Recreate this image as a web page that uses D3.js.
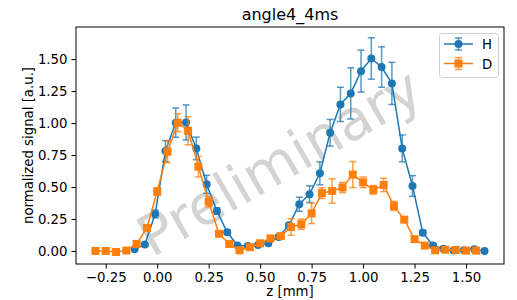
<!DOCTYPE html>
<html>
<head>
<meta charset="utf-8">
<script src="https://cdn.jsdelivr.net/npm/d3@7"></script>
<style>
  body { margin: 0; background: #fff; }
  text { font-family: "DejaVu Sans", sans-serif; }
</style>
</head>
<body>
<div id="chart"></div>
<script>
const zH = [-0.11, -0.06, -0.01, 0.04, 0.09, 0.14, 0.19, 0.24, 0.29, 0.34, 0.39, 0.44, 0.49, 0.54, 0.59, 0.64, 0.69, 0.74,
  0.79, 0.84, 0.89, 0.94, 0.99, 1.04, 1.09, 1.14, 1.19, 1.24, 1.29, 1.34, 1.39, 1.44, 1.49, 1.54, 1.59]
const valH = [0.013, 0.05, 0.289, 0.781, 1.003, 1.005, 0.802, 0.521, 0.3125, 0.146, 0.042, 0.039, 0.046, 0.06, 0.11, 0.2, 0.365, 0.444,
  0.607, 0.924, 1.146, 1.232, 1.406, 1.505, 1.438, 1.31, 0.802, 0.508, 0.143, 0.042, 0.018, 0.003, 0.005, 0.013, 0.0]
const errH = [0.008, 0.01, 0.03, 0.082, 0.114, 0.137, 0.088, 0.07, 0.025, 0.015, 0.01, 0.01, 0.01, 0.01, 0.015, 0.02, 0.055, 0.065,
  0.09, 0.104, 0.134, 0.2, 0.164, 0.162, 0.158, 0.165, 0.105, 0.081, 0.02, 0.01, 0.008, 0.006, 0.006, 0.006, 0.005]

const zD = [-0.30, -0.25, -0.20, -0.15, -0.10, -0.05, 0.00, 0.05, 0.10, 0.15, 0.20, 0.25, 0.30, 0.35, 0.40, 0.45, 0.50, 0.55, 0.60,
  0.65, 0.70, 0.75, 0.80, 0.85, 0.90, 0.95, 1.00, 1.05, 1.10, 1.15, 1.20, 1.25, 1.30, 1.35, 1.40, 1.45, 1.50, 1.55]
const valD = [0.0, 0.0, -0.008, 0.003, 0.055, 0.18, 0.465, 0.776, 1.003, 0.94, 0.659, 0.385, 0.134, 0.055, 0.005, 0.029, 0.06, 0.098, 0.116,
  0.187, 0.209, 0.294, 0.452, 0.469, 0.496, 0.597, 0.536, 0.478, 0.516, 0.352, 0.245, 0.092, 0.042, 0.005, 0.01, 0.008, 0.003, 0.003]
const errD = [0.008, 0.008, 0.01, 0.008, 0.015, 0.02, 0.03, 0.085, 0.07, 0.11, 0.08, 0.04, 0.02, 0.01, 0.01, 0.01, 0.01, 0.012, 0.015,
  0.064, 0.04, 0.08, 0.042, 0.095, 0.04, 0.102, 0.042, 0.034, 0.052, 0.035, 0.02, 0.015, 0.01, 0.008, 0.008, 0.008, 0.006, 0.006]

const xTicks = [-0.25, 0.00, 0.25, 0.50, 0.75, 1.00, 1.25, 1.50]
const yTicks = [0.00, 0.25, 0.50, 0.75, 1.00, 1.25, 1.50]

const series = [
  {name: "H", z: zH, val: valH, err: errH, color: "#1f77b4", marker: "circle"},
  {name: "D", z: zD, val: valD, err: errD, color: "#ff7f0e", marker: "square"}
]

const width = 517, height = 300
const m = {left: 76, right: 504, top: 27, bottom: 264}

const x = d3.scaleLinear().domain([-0.3945, 1.6845]).range([m.left, m.right])
const y = d3.scaleLinear().domain([-0.102, 1.751]).range([m.bottom, m.top])

const svg = d3.select("#chart").append("svg")
    .attr("width", width)
    .attr("height", height)
    .style("display", "block")

svg.append("rect").attr("width", width).attr("height", height).attr("fill", "#fff")

// watermark
svg.append("text")
    .attr("transform", "translate(152,258) rotate(-30)")
    .attr("font-size", 56)
    .attr("fill", "#808080")
    .attr("fill-opacity", 0.35)
    .text("Preliminary")

const fmt = d => d3.format(".2f")(d).replace("-", "\u2212")

svg.append("g")
    .attr("transform", `translate(0,${m.bottom})`)
    .call(d3.axisBottom(x).tickValues(xTicks).tickFormat(fmt).tickSizeOuter(0).tickSize(4.5).tickPadding(4))
    .call(g => g.select(".domain").remove())
    .call(g => g.selectAll("text").attr("font-size", 13.3).attr("fill", "#000").style("font-family", "DejaVu Sans"))

svg.append("g")
    .attr("transform", `translate(${m.left},0)`)
    .call(d3.axisLeft(y).tickValues(yTicks).tickFormat(fmt).tickSizeOuter(0).tickSize(4.5).tickPadding(4))
    .call(g => g.select(".domain").remove())
    .call(g => g.selectAll("text").attr("font-size", 13.3).attr("fill", "#000").style("font-family", "DejaVu Sans"))

const plot = svg.append("g")

series.forEach(s => {
  const pts = s.z.map((z, i) => ({z: z, v: s.val[i], e: s.err[i]}))
  const g = plot.append("g")

  const bars = g.append("g")
      .attr("stroke", s.color)
      .attr("stroke-opacity", 0.75)
      .attr("stroke-width", 1.5)
  bars.selectAll("line.bar").data(pts).join("line").attr("class", "bar")
      .attr("x1", d => x(d.z)).attr("x2", d => x(d.z))
      .attr("y1", d => y(d.v - d.e)).attr("y2", d => y(d.v + d.e))
  bars.selectAll("line.capt").data(pts).join("line").attr("class", "capt")
      .attr("x1", d => x(d.z) - 3.5).attr("x2", d => x(d.z) + 3.5)
      .attr("y1", d => y(d.v + d.e)).attr("y2", d => y(d.v + d.e))
  bars.selectAll("line.capb").data(pts).join("line").attr("class", "capb")
      .attr("x1", d => x(d.z) - 3.5).attr("x2", d => x(d.z) + 3.5)
      .attr("y1", d => y(d.v - d.e)).attr("y2", d => y(d.v - d.e))

  g.append("path")
      .datum(pts)
      .attr("fill", "none")
      .attr("stroke", s.color)
      .attr("stroke-width", 1.5)
      .attr("d", d3.line().x(d => x(d.z)).y(d => y(d.v)))

  if (s.marker === "circle") {
    g.selectAll("circle").data(pts).join("circle")
        .attr("cx", d => x(d.z)).attr("cy", d => y(d.v)).attr("r", 4)
        .attr("fill", s.color)
  } else {
    g.selectAll("rect").data(pts).join("rect")
        .attr("x", d => x(d.z) - 4).attr("y", d => y(d.v) - 4)
        .attr("width", 8).attr("height", 8)
        .attr("fill", s.color)
  }
})

// frame
svg.append("rect")
    .attr("x", m.left).attr("y", m.top)
    .attr("width", m.right - m.left).attr("height", m.bottom - m.top)
    .attr("fill", "none").attr("stroke", "#000").attr("stroke-width", 1)

svg.append("text")
    .attr("x", (m.left + m.right) / 2).attr("y", 20)
    .attr("text-anchor", "middle")
    .attr("font-size", 16)
    .text("angle4_4ms")

svg.append("text")
    .attr("x", (m.left + m.right) / 2).attr("y", 296)
    .attr("text-anchor", "middle")
    .attr("font-size", 13.3)
    .text("z [mm]")

svg.append("text")
    .attr("transform", `translate(33,${(m.top + m.bottom) / 2}) rotate(-90)`)
    .attr("text-anchor", "middle")
    .attr("font-size", 13.3)
    .text("normalized signal [a.u.]")

// legend
const legend = svg.append("g")
legend.append("rect")
    .attr("x", 439.5).attr("y", 33.5).attr("width", 59).attr("height", 44)
    .attr("rx", 3)
    .attr("fill", "#fff").attr("fill-opacity", 0.8)
    .attr("stroke", "#d0d0d0")

series.forEach((s, i) => {
  const ly = 44 + i * 19.5
  const lg = legend.append("g")
  lg.append("line").attr("x1", 458.5).attr("x2", 458.5).attr("y1", ly - 6).attr("y2", ly + 6)
      .attr("stroke", s.color).attr("stroke-opacity", 0.75).attr("stroke-width", 1.5)
  lg.append("line").attr("x1", 455).attr("x2", 462).attr("y1", ly - 6).attr("y2", ly - 6)
      .attr("stroke", s.color).attr("stroke-opacity", 0.75).attr("stroke-width", 1.5)
  lg.append("line").attr("x1", 455).attr("x2", 462).attr("y1", ly + 6).attr("y2", ly + 6)
      .attr("stroke", s.color).attr("stroke-opacity", 0.75).attr("stroke-width", 1.5)
  lg.append("line").attr("x1", 444).attr("x2", 473).attr("y1", ly).attr("y2", ly)
      .attr("stroke", s.color).attr("stroke-width", 1.5)
  if (s.marker === "circle") {
    lg.append("circle").attr("cx", 458.5).attr("cy", ly).attr("r", 4).attr("fill", s.color)
  } else {
    lg.append("rect").attr("x", 454.5).attr("y", ly - 4).attr("width", 8).attr("height", 8).attr("fill", s.color)
  }
  lg.append("text").attr("x", 482).attr("y", ly + 5)
      .attr("font-size", 13.3)
      .text(s.name)
})
</script>
</body>
</html>
